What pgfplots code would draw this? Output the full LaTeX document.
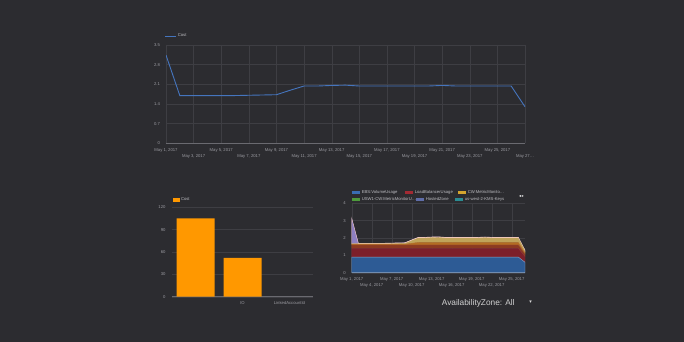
\documentclass[border=0pt]{standalone}
\usepackage{fontspec}
\setmainfont{Liberation Sans}
\newfontfamily\symf{DejaVu Sans}
\usepackage{pgfplots}
\usepackage{pgfplotstable}
\pgfplotsset{compat=1.18}
\definecolor{bg}{HTML}{2C2C30}
\definecolor{gridc}{HTML}{3E3E43}
\definecolor{zeroc}{HTML}{6A6A70}
\definecolor{tickc}{HTML}{9C9CA2}
\definecolor{legc}{HTML}{BDBDC2}
\definecolor{linec}{HTML}{4575BE}
\definecolor{barc}{HTML}{FF9800}
% legend colours
\definecolor{ebs}{HTML}{3A6DB3}
\definecolor{lbu}{HTML}{A22A33}
\definecolor{cwm}{HTML}{D4A52E}
\definecolor{usw}{HTML}{4E9A3C}
\definecolor{hz}{HTML}{5F6DA8}
\definecolor{kms}{HTML}{2B8C92}
% area fill colours (as seen)
\definecolor{fa}{HTML}{2D5B95}
\definecolor{fb}{HTML}{7C1F2A}
\definecolor{fc}{HTML}{8C3A20}
\definecolor{fd}{HTML}{B46C22}
\definecolor{fe}{HTML}{BFA35A}
\definecolor{ff}{HTML}{8E7FC0}
\newcommand\tf{\fontsize{4.2}{5}\selectfont}

\pgfplotsset{
  dash/.style={
    scale only axis,
    axis line style={draw=none},
    major tick length=0pt,
    tick style={draw=none},
    grid style={gridc, line width=0.35pt},
    tick label style={font=\tf, text=tickc},
    /pgf/number format/assume math mode=true,
    legend style={draw=none, fill=none, font=\tf, text=legc, inner sep=0pt, outer sep=0pt,
      nodes={inner xsep=1pt, inner ysep=0.5pt}},
    extra y ticks={0}, extra y tick labels={},
    extra y tick style={grid=major, major grid style={zeroc, line width=0.4pt}},
  }
}

\pgfplotstableread{
day cost
1 3.14
2 1.70
3 1.70
4 1.70
5 1.70
6 1.70
7 1.71
8 1.72
9 1.73
10 1.89
11 2.04
12 2.04
13 2.06
14 2.07
15 2.04
16 2.04
17 2.04
18 2.04
19 2.04
20 2.04
21 2.06
22 2.04
23 2.04
24 2.04
25 2.04
26 2.04
27 1.30
}\costtab

\pgfplotstableread{
day a b c d e f
1 0.90 0.50 0.20 0.05 0.01 1.48
2 0.90 0.50 0.20 0.05 0.01 0.04
3 0.90 0.50 0.20 0.05 0.01 0.04
4 0.90 0.50 0.20 0.05 0.01 0.04
5 0.90 0.50 0.20 0.05 0.01 0.04
6 0.90 0.50 0.20 0.05 0.01 0.04
7 0.90 0.50 0.20 0.05 0.02 0.04
8 0.90 0.50 0.20 0.05 0.03 0.04
9 0.90 0.50 0.20 0.05 0.04 0.04
10 0.90 0.50 0.20 0.10 0.15 0.04
11 0.90 0.50 0.20 0.15 0.25 0.04
12 0.90 0.50 0.20 0.15 0.25 0.04
13 0.90 0.50 0.20 0.15 0.27 0.04
14 0.90 0.50 0.20 0.15 0.28 0.04
15 0.90 0.50 0.20 0.15 0.25 0.04
16 0.90 0.50 0.20 0.15 0.25 0.04
17 0.90 0.50 0.20 0.15 0.25 0.04
18 0.90 0.50 0.20 0.15 0.25 0.04
19 0.90 0.50 0.20 0.15 0.25 0.04
20 0.90 0.50 0.20 0.15 0.25 0.04
21 0.90 0.50 0.20 0.15 0.27 0.04
22 0.90 0.50 0.20 0.15 0.25 0.04
23 0.90 0.50 0.20 0.15 0.25 0.04
24 0.90 0.50 0.20 0.15 0.25 0.04
25 0.90 0.50 0.20 0.15 0.25 0.04
26 0.90 0.50 0.20 0.15 0.25 0.04
27 0.60 0.32 0.15 0.08 0.10 0.05
}\areatab

\begin{document}
\begin{tikzpicture}
\path[use as bounding box] (0,0) rectangle (684pt,342pt);
\fill[bg] (0,0) rectangle (684pt,342pt);

% ---------- top line chart ----------
\begin{axis}[dash,
  at={(166pt,198.7pt)}, anchor=south west,
  width=359pt, height=98.3pt,
  xmin=1, xmax=27, ymin=0, ymax=3.5,
  ytick={0,0.7,1.4,2.1,2.8,3.5},
  yticklabels={0,0.7,1.4,2.1,2.8,3.5},
  yticklabel style={xshift=-2.5pt},
  xtick={1,5,9,13,17,21,25},
  xticklabels={{May 1, 2017},{May 5, 2017},{May 9, 2017},{May 13, 2017},{May 17, 2017},{May 21, 2017},{May 25, 2017}},
  xticklabel style={yshift=-1.3pt},
  extra x ticks={3,7,11,15,19,23,27},
  extra x tick labels={{May 3, 2017},{May 7, 2017},{May 11, 2017},{May 15, 2017},{May 19, 2017},{May 23, 2017},{May 27\dots}},
  extra x tick style={grid=major, major grid style={gridc, line width=0.35pt}, xticklabel style={yshift=-6.9pt}},
  grid=major,
  legend style={at={(-0.003,1.0916)}, anchor=west},
  legend image code/.code={\draw[#1] (0pt,0pt) -- (11pt,0pt);},
]
\addplot[linec, line width=0.9pt] table[x=day, y=cost] {\costtab};
\addlegendentry{Cost}
\end{axis}

% ---------- bar chart ----------
\begin{axis}[dash,
  at={(172pt,45.3pt)}, anchor=south west,
  width=141pt, height=89.4pt,
  xmin=-0.5, xmax=2.5, ymin=0, ymax=120,
  ytick={0,30,60,90,120},
  yticklabel style={xshift=-3pt},
  xtick={0,1,2}, xticklabels={{},IO,LinkedAccountId},
  xticklabel style={yshift=-1.2pt},
  ymajorgrids,
  ybar, bar width=38pt,
  legend style={at={(0.005,1.0817)}, anchor=west},
  legend image code/.code={\fill[barc] (0pt,-2pt) rectangle (7.3pt,2pt);},
]
\addplot[fill=barc, draw=none] coordinates {(0,105.2) (1,52)};
\addlegendentry{Cost}
\end{axis}

% ---------- stacked area chart ----------
\begin{axis}[dash,
  at={(351.7pt,69.3pt)}, anchor=south west,
  width=173.3pt, height=69.4pt,
  xmin=1, xmax=27, ymin=0, ymax=4,
  ytick={0,1,2,3,4},
  yticklabel style={xshift=-2.5pt},
  xtick={1,7,13,19,25},
  xticklabels={{May 1, 2017},{May 7, 2017},{May 13, 2017},{May 19, 2017},{May 25, 2017}},
  xticklabel style={yshift=-1.3pt},
  extra x ticks={4,10,16,22},
  extra x tick labels={{May 4, 2017},{May 10, 2017},{May 16, 2017},{May 22, 2017}},
  extra x tick style={grid=major, major grid style={gridc, line width=0.35pt}, xticklabel style={yshift=-6pt}},
  grid=major,
  stack plots=y,
]
\addplot[fill=fa, draw=fa!55!white, line width=0.4pt] table[x=day, y=a] {\areatab} \closedcycle;
\addplot[fill=fb, draw=fb!90!white, line width=0.3pt] table[x=day, y=b] {\areatab} \closedcycle;
\addplot[fill=fc, draw=fc!90!white, line width=0.3pt] table[x=day, y=c] {\areatab} \closedcycle;
\addplot[fill=fd, draw=fd!90!white, line width=0.3pt] table[x=day, y=d] {\areatab} \closedcycle;
\addplot[fill=fe, draw=fe!90!white, line width=0.3pt] table[x=day, y=e] {\areatab} \closedcycle;
\addplot[fill=ff, draw=pink!70!white, line width=0.4pt] table[x=day, y=f] {\areatab} \closedcycle;
\end{axis}

% legend rows for the area chart
\begin{axis}[dash,
  at={(351.7pt,69.3pt)}, anchor=south west,
  width=173.3pt, height=69.4pt,
  xmin=1, xmax=27, ymin=0, ymax=4,
  hide axis, extra y ticks={},
  legend columns=3,
  legend style={at={(0.0035,1.1585)}, anchor=west,
    /tikz/every odd column/.append style={column sep=1pt}},
  legend image code/.code={\fill[#1, draw=none] (0pt,-1.6pt) rectangle (7.5pt,1.6pt);},
]
\addlegendimage{fill=ebs}
\addlegendentry[text width=42.5pt]{EBS:VolumeUsage}
\addlegendimage{fill=lbu}
\addlegendentry[text width=42.5pt]{LoadBalancerUsage}
\addlegendimage{fill=cwm}
\addlegendentry[text width=42.5pt]{CW:MetricMonito\dots}
\end{axis}
\begin{axis}[dash,
  at={(351.7pt,69.3pt)}, anchor=south west,
  width=173.3pt, height=69.4pt,
  xmin=1, xmax=27, ymin=0, ymax=4,
  hide axis, extra y ticks={},
  legend columns=3,
  legend style={at={(0.0035,1.0519)}, anchor=west,
    /tikz/every odd column/.append style={column sep=1pt}},
  legend image code/.code={\fill[#1, draw=none] (0pt,-1.6pt) rectangle (7.5pt,1.6pt);},
]
\addlegendimage{fill=usw}
\addlegendentry[text width=53.5pt]{\mbox{USW1-CW:MetricMonitorU\dots}}
\addlegendimage{fill=hz}
\addlegendentry[text width=28.5pt]{HostedZone}
\addlegendimage{fill=kms}
\addlegendentry[text width=42.5pt]{us-west-2-KMS-Keys}
\end{axis}

% pagination arrows and filter control
\node[text=white, inner sep=0] at (521.5pt,145.3pt) {\symf\fontsize{4}{4}\selectfont ◂\,▸};
\node[anchor=west, inner sep=0, text=white!82!black] at (441.7pt,39pt) {\fontsize{8.3}{9}\selectfont AvailabilityZone: All};
\node[inner sep=0, text=white!85!black] at (530.5pt,39.5pt) {\symf\fontsize{5}{5}\selectfont ▾};
\end{tikzpicture}
\end{document}
